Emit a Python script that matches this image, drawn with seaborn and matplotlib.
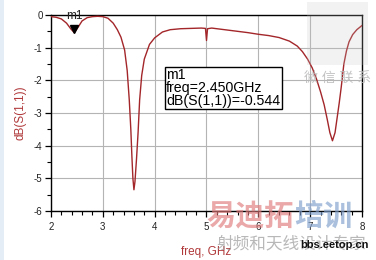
import numpy as np
import pandas as pd
import matplotlib
matplotlib.use("Agg")
import matplotlib.pyplot as plt
import matplotlib.transforms as mtransforms
from matplotlib.patches import Rectangle
import seaborn as sns

# ---- data ----
freq_ghz = [2.00, 2.10, 2.20, 2.30, 2.38, 2.45, 2.52, 2.60, 2.70, 2.80, 2.90, 3.00,
            3.10, 3.20, 3.28, 3.35, 3.42, 3.47, 3.51, 3.54, 3.56, 3.58, 3.60, 3.62,
            3.65, 3.68, 3.71, 3.75, 3.80, 3.90, 4.00, 4.15, 4.30, 4.50, 4.70, 4.90,
            4.98, 5.00, 5.02, 5.10, 5.30, 5.55, 5.80, 6.00, 6.20, 6.40, 6.60, 6.75,
            6.85, 6.95, 7.04, 7.12, 7.20, 7.27, 7.33, 7.38, 7.43, 7.48, 7.52, 7.56,
            7.60, 7.65, 7.70, 7.75, 7.82, 7.90, 8.00]
s11_db = [-0.05, -0.07, -0.12, -0.25, -0.42, -0.544, -0.38, -0.18, -0.08, -0.05, -0.04, -0.05,
          -0.10, -0.25, -0.45, -0.68, -1.07, -1.70, -2.60, -3.50, -4.30, -5.00, -5.35, -5.10,
          -4.40, -3.60, -2.60, -1.85, -1.35, -0.90, -0.70, -0.52, -0.45, -0.42, -0.41, -0.40,
          -0.41, -0.78, -0.42, -0.40, -0.44, -0.49, -0.54, -0.59, -0.63, -0.69, -0.80, -0.95,
          -1.12, -1.35, -1.62, -1.95, -2.35, -2.75, -3.20, -3.60, -3.85, -3.60, -3.15, -2.70,
          -2.20, -1.50, -1.10, -0.82, -0.60, -0.45, -0.32]

marker_name = "m1"
marker_freq = 2.45
marker_db = -0.544
x_ticks = [2, 3, 4, 5, 6, 7, 8]
y_ticks = [0, -1, -2, -3, -4, -5, -6]
box_text = "m1\nfreq=2.450GHz\ndB(S(1,1))=-0.544"

df = pd.DataFrame({"freq": freq_ghz, "db": s11_db})

sns.set_theme(style="white")
plt.rcParams["font.family"] = ["Liberation Sans", "Noto Sans CJK SC", "DejaVu Sans"]

W, H = 376, 260
fig = plt.figure(figsize=(W / 100, H / 100), dpi=100)
fig.patch.set_facecolor("white")

# pale blue left strip
fig.patches.append(Rectangle((0, 0), 4 / W, 1, transform=fig.transFigure,
                             facecolor="#e4ecf6", edgecolor="none", zorder=0))

ax = fig.add_axes([51 / W, 1 - 211 / H, (362 - 51) / W, (211 - 15) / H])
ax.set_facecolor("white")

sns.lineplot(data=df, x="freq", y="db", ax=ax, color="#a3262a", linewidth=1.0,
             sort=False, zorder=3)

ax.set_xlim(2, 8)
ax.set_ylim(-6, 0)
ax.set_xticks(x_ticks)
ax.set_xticklabels([str(t) for t in x_ticks])
ax.set_yticks(y_ticks)
ax.set_yticklabels([str(t) for t in y_ticks])
ax.set_xticks(np.arange(2, 8.01, 0.2), minor=True)
ax.set_yticks(np.arange(-6, 0.01, 0.5), minor=True)

ax.grid(True, which="major", color="#b4b4b4", linewidth=0.8)
ax.grid(False, which="minor")
ax.set_axisbelow(True)

for sp in ax.spines.values():
    sp.set_visible(True)
    sp.set_color("black")
    sp.set_linewidth(1.0)

ax.tick_params(axis="both", which="major", direction="out", length=4, width=0.9,
               color="black", labelsize=7, labelcolor="#222222", pad=2,
               bottom=True, left=True)
ax.tick_params(axis="both", which="minor", direction="out", length=3, width=0.8,
               color="black", bottom=True, left=True)
ax.tick_params(axis="x", which="major", pad=4)

ax.set_xlabel("freq, GHz", color="#b0383a", fontsize=8.5, labelpad=10)
ax.set_ylabel("dB(S(1,1))", color="#b0383a", fontsize=8.5, labelpad=5)

# marker triangle (slightly above the trace point)
off = mtransforms.offset_copy(ax.transData, fig=fig, x=0, y=4, units="dots")
ax.plot([marker_freq], [marker_db], marker="v", color="black", markersize=6,
        transform=off, zorder=5, clip_on=False)
ax.annotate(marker_name, xy=(marker_freq, marker_db), xytext=(0, 17),
            textcoords="offset pixels", ha="center", va="center",
            fontsize=8.5, color="#222222", zorder=6, annotation_clip=False)

# marker readout box
ax.text(4.22, -1.63, box_text, ha="left", va="top", fontsize=10.2,
        color="black", linespacing=0.9, zorder=6,
        bbox=dict(boxstyle="square,pad=0.1", facecolor="white",
                  edgecolor="black", linewidth=1.0))

# watermarks
fig.patches.append(Rectangle((307 / W, 1 - 65 / H), 61 / W, 63 / H,
                             transform=fig.transFigure, facecolor="#c4c4c4",
                             edgecolor="none", alpha=0.22, zorder=9))
fig.text(338 / W, 1 - 78 / H, "微 信 联 系", fontsize=10,
         color="#b8b8b8", alpha=0.85, ha="center", va="center", zorder=10)
fig.text(294 / W, 1 - 217 / H, "易迪拓", fontsize=21, fontweight="bold",
         color="#e07a7a", alpha=0.65, ha="right", va="center", zorder=10)
fig.text(294 / W, 1 - 217 / H, "培训", fontsize=21, fontweight="bold",
         color="#7f9fcc", alpha=0.65, ha="left", va="center", zorder=10)
fig.text(291 / W, 1 - 244 / H, "射频和天线设计专家", fontsize=12,
         color="#9a9a9a", alpha=0.7, ha="center", va="center", zorder=10)
fig.text(335 / W, 1 - 245 / H, "bbs.eetop.cn", fontsize=8, fontweight="bold",
         color="#111111", ha="center", va="center", zorder=11)

fig.savefig("out.png", dpi=100, facecolor="white")
